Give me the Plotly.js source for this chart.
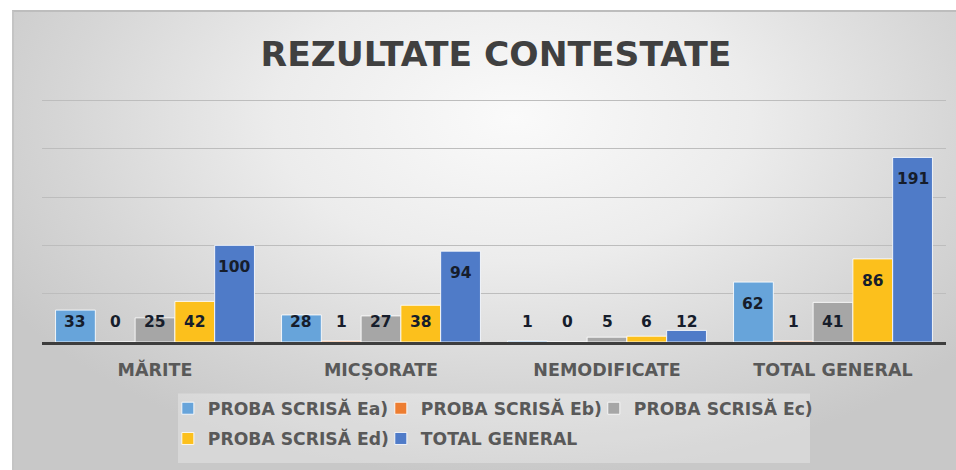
<!DOCTYPE html>
<html>
<head>
<meta charset="utf-8">
<script src="https://cdn.plot.ly/plotly-3.0.1.min.js"></script>
<style>
  html, body { margin: 0; padding: 0; background: #ffffff; }
  #wrap { position: relative; width: 956px; height: 470px; overflow: hidden; background: #ffffff; }
  #bg { position: absolute; left: 12px; top: 10px; width: 960px; height: 480px;
        border-top: 2px solid #bdbdbd; border-left: 2px solid #c4c4c4;
        background: radial-gradient(ellipse 62% 75% at 52% 22%, #fafafa 0%, #ececec 40%, #d6d6d6 75%, #c8c8c8 100%); }
  #chart { position: absolute; left: 0; top: 0; width: 956px; height: 470px; }
</style>
</head>
<body>
<div id="wrap">
  <div id="bg"></div>
  <div id="chart"></div>
</div>
<script>
// ---- data ----
const categories = ['MĂRITE', 'MICȘORATE', 'NEMODIFICATE', 'TOTAL GENERAL'];
const seriesNames = ['PROBA SCRISĂ Ea)', 'PROBA SCRISĂ Eb)', 'PROBA SCRISĂ Ec)', 'PROBA SCRISĂ Ed)', 'TOTAL GENERAL'];
const probaEa = [33, 28, 1, 62];
const probaEb = [0, 1, 0, 1];
const probaEc = [25, 27, 5, 41];
const probaEd = [42, 38, 6, 86];
const totalGeneral = [100, 94, 12, 191];
const chartTitle = 'REZULTATE CONTESTATE';

// ---- styling ----
const seriesValues = [probaEa, probaEb, probaEc, probaEd, totalGeneral];
const colors = ['#67A4DA', '#ED7D31', '#A6A6A6', '#FCC01C', '#4F7BC8'];
const bargap = 0.12;
const slot = (1 - bargap) / seriesValues.length;
const yMax = 252.5;

// legend grid: 3 columns, 2 rows (one legend per entry so the columns line up like the original)
const legendCols = [0.1392, 0.3748, 0.6104];
const legendRows = [-0.2727, -0.3967];
const legendFont = { family: 'DejaVu Sans', size: 17.2, color: '#595959', weight: 'bold' };
const legendIds = seriesValues.map((_, i) => (i === 0 ? 'legend' : 'legend' + (i + 1)));

const traces = seriesValues.map((vals, i) => ({
  type: 'bar',
  name: seriesNames[i],
  x: categories,
  y: vals,
  legend: legendIds[i],
  marker: { color: colors[i], line: { color: 'rgba(255,255,255,0.85)', width: 1 } },
  hoverinfo: 'x+y+name'
}));

// data labels: placed a little inside the bar top, but never below a floor near the baseline
const labelOffset = 22.7;
const labelFloor = 20.5;
const annotations = [];
seriesValues.forEach((vals, s) => {
  vals.forEach((v, c) => {
    annotations.push({
      xref: 'x', yref: 'y',
      x: c + (s - (seriesValues.length - 1) / 2) * slot,
      y: Math.max(v - labelOffset, labelFloor),
      text: String(v),
      showarrow: false,
      xanchor: 'center', yanchor: 'middle',
      font: { family: 'DejaVu Sans', size: 15.5, color: '#161d2b', weight: 'bold' }
    });
  });
});

const layout = {
  width: 956, height: 470,
  paper_bgcolor: 'rgba(0,0,0,0)',
  plot_bgcolor: 'rgba(0,0,0,0)',
  margin: { l: 42, r: 10, t: 98, b: 128 },
  barmode: 'group',
  bargap: bargap,
  bargroupgap: 0,
  title: {
    text: chartTitle,
    font: { family: 'DejaVu Sans', size: 34.5, color: '#404040', weight: 'bold' },
    x: 496 / 956, xanchor: 'center', xref: 'container',
    y: 1 - 54 / 470, yanchor: 'middle', yref: 'container'
  },
  xaxis: {
    type: 'category',
    showline: true, linecolor: '#3d3d3d', linewidth: 3,
    showgrid: false, ticks: '',
    ticklabelstandoff: 10,
    tickfont: { family: 'DejaVu Sans', size: 17.5, color: '#595959', weight: 'bold' }
  },
  yaxis: {
    range: [0, yMax], tick0: 0, dtick: 50,
    showticklabels: false, ticks: '',
    gridcolor: '#bdbdbd', gridwidth: 1,
    zeroline: false, showline: false
  },
  showlegend: true,
  shapes: [{
    type: 'rect', xref: 'paper', yref: 'paper', layer: 'below',
    x0: 0.1504, x1: 0.8496, y0: -0.2107, y1: -0.496,
    fillcolor: 'rgba(255,255,255,0.28)', line: { width: 0 }
  }],
  annotations: annotations
};

legendIds.forEach((id, i) => {
  layout[id] = {
    orientation: 'h',
    x: legendCols[i % 3], xanchor: 'left',
    y: legendRows[Math.floor(i / 3)], yanchor: 'middle',
    bgcolor: 'rgba(0,0,0,0)', font: legendFont
  };
});

Plotly.newPlot('chart', traces, layout, { displayModeBar: false, staticPlot: true });
</script>
</body>
</html>
